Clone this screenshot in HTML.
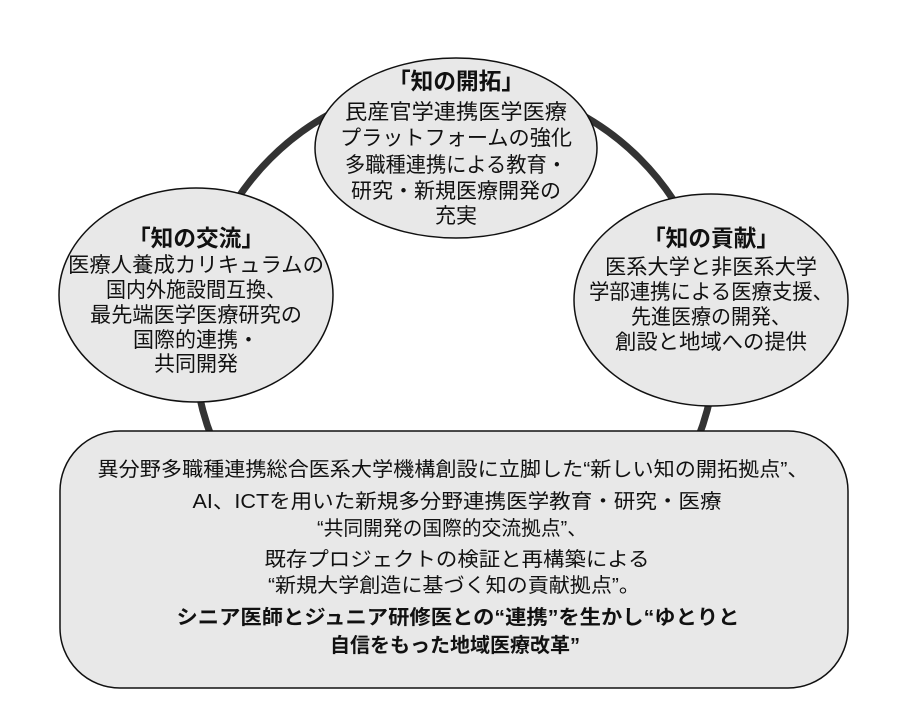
<!DOCTYPE html>
<html><head><meta charset="utf-8"><style>
html,body{margin:0;padding:0;background:#fff;}
svg{display:block;}
text{font-family:"Liberation Sans","Noto Sans CJK JP",sans-serif;fill:#111;text-anchor:middle;}
.t{font-weight:bold;font-size:23px;}
.b{font-size:21px;}
.m{font-size:20px;}
.mb{font-size:20px;font-weight:bold;}
</style></head><body>
<svg width="904" height="721" viewBox="0 0 904 721" xmlns="http://www.w3.org/2000/svg">
<rect width="904" height="721" fill="#fff"/>
<circle cx="455" cy="343" r="261" fill="none" stroke="#333" stroke-width="7"/>
<ellipse cx="456" cy="148" rx="141" ry="90" fill="#e8e8e8" stroke="#111" stroke-width="1.5"/>
<ellipse cx="196" cy="295" rx="137" ry="107" fill="#e8e8e8" stroke="#111" stroke-width="1.5"/>
<ellipse cx="711" cy="300" rx="137" ry="106" fill="#e8e8e8" stroke="#111" stroke-width="1.5"/>
<rect x="60" y="431" width="788" height="257" rx="60" ry="60" fill="#e8e8e8" stroke="#111" stroke-width="1.5"/>

<text class="t" x="456" y="89" textLength="136" lengthAdjust="spacingAndGlyphs">「知の開拓」</text>
<text class="b" x="456" y="119" textLength="222" lengthAdjust="spacingAndGlyphs">民産官学連携医学医療</text>
<text class="b" x="456" y="145" textLength="232" lengthAdjust="spacingAndGlyphs">プラットフォームの強化</text>
<text class="b" x="456" y="172" textLength="222" lengthAdjust="spacingAndGlyphs">多職種連携による教育・</text>
<text class="b" x="456" y="198" textLength="210" lengthAdjust="spacingAndGlyphs">研究・新規医療開発の</text>
<text class="b" x="456" y="223">充実</text>

<text class="t" x="196" y="246" textLength="136" lengthAdjust="spacingAndGlyphs">「知の交流」</text>
<text class="b" x="196" y="272" textLength="256" lengthAdjust="spacingAndGlyphs">医療人養成カリキュラムの</text>
<text class="b" x="196" y="297" textLength="180" lengthAdjust="spacingAndGlyphs">国内外施設間互換、</text>
<text class="b" x="196" y="322" textLength="212" lengthAdjust="spacingAndGlyphs">最先端医学医療研究の</text>
<text class="b" x="196" y="347" textLength="126" lengthAdjust="spacingAndGlyphs">国際的連携・</text>
<text class="b" x="196" y="371" textLength="84" lengthAdjust="spacingAndGlyphs">共同開発</text>

<text class="t" x="711" y="246" textLength="136" lengthAdjust="spacingAndGlyphs">「知の貢献」</text>
<text class="b" x="711" y="274" textLength="212" lengthAdjust="spacingAndGlyphs">医系大学と非医系大学</text>
<text class="b" x="711" y="299" textLength="244" lengthAdjust="spacingAndGlyphs">学部連携による医療支援、</text>
<text class="b" x="711" y="324" textLength="160" lengthAdjust="spacingAndGlyphs">先進医療の開発、</text>
<text class="b" x="711" y="349" textLength="192" lengthAdjust="spacingAndGlyphs">創設と地域への提供</text>

<text class="m" x="453" y="476" textLength="711" lengthAdjust="spacingAndGlyphs">異分野多職種連携総合医系大学機構創設に立脚した“新しい知の開拓拠点”、</text>
<text class="m" x="457" y="508" textLength="529" lengthAdjust="spacingAndGlyphs">AI、ICTを用いた新規多分野連携医学教育・研究・医療</text>
<text class="m" x="452" y="535" textLength="270" lengthAdjust="spacingAndGlyphs">“共同開発の国際的交流拠点”、</text>
<text class="m" x="457" y="566" textLength="385" lengthAdjust="spacingAndGlyphs">既存プロジェクトの検証と再構築による</text>
<text class="m" x="454" y="592" textLength="372" lengthAdjust="spacingAndGlyphs">“新規大学創造に基づく知の貢献拠点”。</text>
<text class="mb" x="458" y="624" textLength="563" lengthAdjust="spacingAndGlyphs">シニア医師とジュニア研修医との“連携”を生かし“ゆとりと</text>
<text class="mb" x="455" y="652" textLength="250" lengthAdjust="spacingAndGlyphs">自信をもった地域医療改革”</text>
</svg>
</body></html>
